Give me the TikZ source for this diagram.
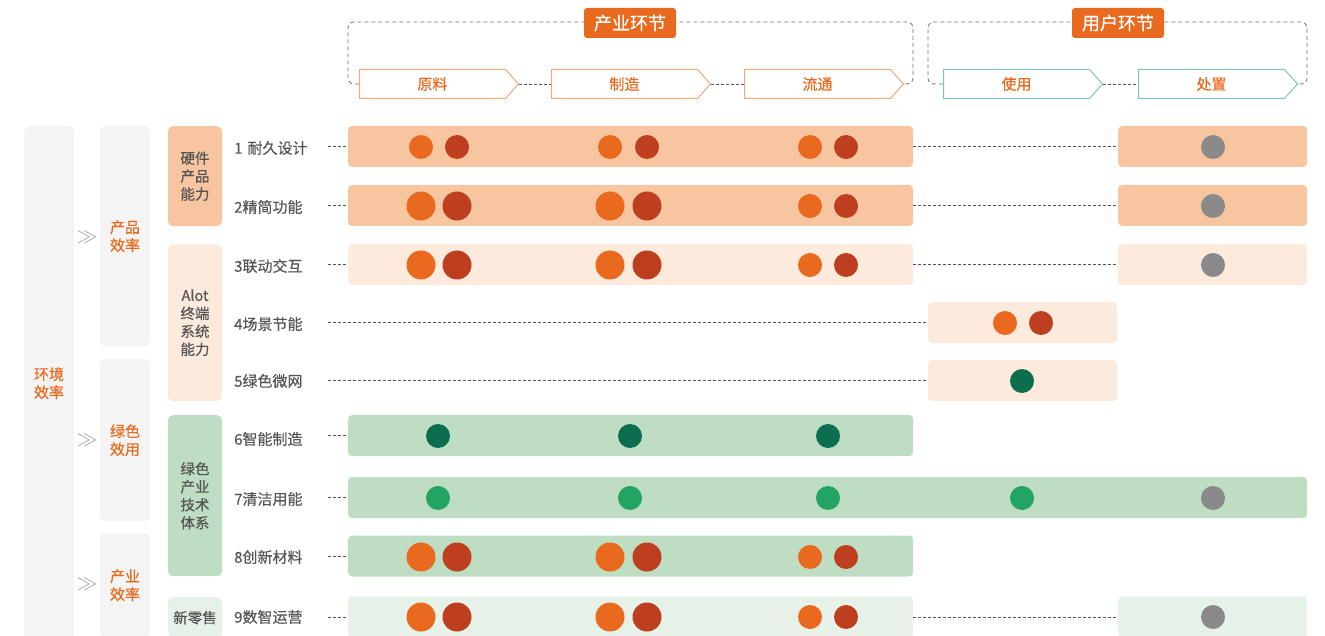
\documentclass[tikz,border=0pt]{standalone}
\usepackage{fontspec}
\setmainfont{Noto Sans CJK SC}[FakeBold=0.4]
\usepackage{tikz}
\usetikzlibrary{shapes,positioning}
\usepackage{xcolor}
\definecolor{hjorange}{HTML}{E9691E}
\definecolor{hjred}{HTML}{BE3F1F}
\definecolor{hjdkgreen}{HTML}{0B6E4F}
\definecolor{hjgreen}{HTML}{22A463}
\definecolor{hjgray}{HTML}{8A8A8A}
\definecolor{hjpeach}{HTML}{F7C6A1}
\definecolor{hjpeachlt}{HTML}{FCEADC}
\definecolor{hjsage}{HTML}{BFDDC3}
\definecolor{hjsagelt}{HTML}{E6F2E8}
\definecolor{hjbox}{HTML}{F4F4F4}
\definecolor{hjedge}{HTML}{F2A877}
\definecolor{hjteal}{HTML}{82C4BF}
\definecolor{hjtext}{HTML}{555555}
\tikzstyle{bar} = [rectangle, rounded corners=4pt, minimum height=41pt, inner sep=0pt, anchor=west]
\tikzstyle{rowlabel} = [anchor=west, text width=94pt, inner sep=0pt, align=left, text=hjtext, font=\fontsize{15}{18}\selectfont]
\tikzstyle{link} = [dash pattern=on 3pt off 2pt, line width=0.8pt, color=hjtext]
\tikzstyle{bracket} = [dash pattern=on 4pt off 3pt, line width=0.8pt, color=hjtext!85, rounded corners=6pt]
\tikzstyle{stage} = [signal, signal to=east, signal pointer angle=96, minimum width=159pt, minimum height=29pt, inner sep=0pt, anchor=west, fill=white, line width=1pt, draw=hjedge, text=hjorange, font=\fontsize{15}{17}\selectfont]
\tikzstyle{phase} = [rectangle, rounded corners=3pt, fill=hjorange, text=white, minimum width=92pt, minimum height=30pt, inner sep=0pt, font=\fontsize{18}{20}\selectfont]
\tikzstyle{effbox} = [rectangle, rounded corners=5pt, fill=hjbox, minimum width=50pt, inner sep=0pt, anchor=north, align=center, text=hjorange, font=\fontsize{15}{18}\selectfont]
\tikzstyle{catbox} = [rectangle, rounded corners=5pt, minimum width=54pt, inner sep=0pt, anchor=north, align=center, text=hjtext, font=\fontsize{14.5}{18}\selectfont]
\tikzstyle{chev} = [text=hjgray!80, font=\fontsize{20}{20}\selectfont]

\begin{document}
\begin{tikzpicture}[x=1pt, y=-1pt]
\useasboundingbox (0,0) rectangle (1325,636);

% Stages along the chain
\node[stage] (yl) at (359,84) {原料};
\node[stage] (zz) at (551,84) {制造};
\node[stage] (lt) at (744,84) {流通};
\node[stage, draw=hjteal] (sy) at (943,84) {使用};
\node[stage, draw=hjteal] (cz) at (1138,84) {处置};
\draw[link] (yl.east) -- (zz.west);
\draw[link] (zz.east) -- (lt.west);
\draw[link] (sy.east) -- (cz.west);

% Dashed brackets
\coordinate (cyL) at (348,22);
\coordinate (cyR) at (913,22);
\coordinate (yhL) at (928,22);
\coordinate (yhR) at (1307,22);
\draw[bracket] (yl.west) -| (cyL) -- (cyR) |- (lt.east);
\draw[bracket] (sy.west) -| (yhL) -- (yhR) |- (cz.east);
\node[phase] (cyhj) at (630,23) {产业环节};
\node[phase] (yhhj) at (1118,23) {用户环节};

% Efficiency columns
\node[effbox, minimum height=514pt] (hjxl) at (49,126) {环境\\效率};
\node[effbox, minimum height=220pt] (cpxl) at (125,126) {产品\\效率};
\node[effbox, minimum height=162pt] (lsxy) at (125,359) {绿色\\效用};
\node[effbox, minimum height=104pt] (cyxl) at (125,533) {产业\\效率};
\node[chev] (g1) at (87,237) {$\gg$};
\node[chev] (g2) at (87,440) {$\gg$};
\node[chev] (g3) at (87,584) {$\gg$};

% Capability groups
\node[catbox, fill=hjpeach, minimum height=100pt] (yj) at (195,126) {硬件\\产品\\能力};
\node[catbox, fill=hjpeachlt, minimum height=157pt] (aiot) at (195,244) {Alot\\终端\\系统\\能力};
\node[catbox, fill=hjsage, minimum height=161pt] (lscy) at (195,415) {绿色\\产业\\技术\\体系};
\node[catbox, fill=hjsagelt, minimum height=41pt] (xls) at (195,597) {新零售};

% Rows
\node[rowlabel] (l1) at (234,148) {1 耐久设计};
\node[rowlabel] (l2) at (234,207) {2精简功能};
\node[rowlabel] (l3) at (234,266) {3联动交互};
\node[rowlabel] (l4) at (234,324) {4场景节能};
\node[rowlabel] (l5) at (234,381) {5绿色微网};
\node[rowlabel] (l6) at (234,439) {6智能制造};
\node[rowlabel] (l7) at (234,499) {7清洁用能};
\node[rowlabel] (l8) at (234,557) {8创新材料};
\node[rowlabel] (l9) at (234,617) {9数智运营};

\node[bar, fill=hjpeach, minimum width=565pt] (b1) at (348,146.5) {};
\node[bar, fill=hjpeach, minimum width=189pt] (r1) at (1118,146.5) {};
\node[bar, fill=hjpeach, minimum width=565pt] (b2) at (348,205.5) {};
\node[bar, fill=hjpeach, minimum width=189pt] (r2) at (1118,205.5) {};
\node[bar, fill=hjpeachlt, minimum width=565pt] (b3) at (348,264.5) {};
\node[bar, fill=hjpeachlt, minimum width=189pt] (r3) at (1118,264.5) {};
\node[bar, fill=hjpeachlt, minimum width=189pt] (b4) at (928,322.5) {};
\node[bar, fill=hjpeachlt, minimum width=189pt] (b5) at (928,380.5) {};
\node[bar, fill=hjsage, minimum width=565pt] (b6) at (348,435.5) {};
\node[bar, fill=hjsage, minimum width=959pt] (b7) at (348,497.5) {};
\node[bar, fill=hjsage, minimum width=565pt] (b8) at (348,556) {};
\node[bar, fill=hjsagelt, minimum width=565pt] (b9) at (348,617) {};
\node[bar, fill=hjsagelt, minimum width=189pt] (r9) at (1118,617) {};

\draw[link] (b1.west -| l1.east) -- (b1.west);
\draw[link] (b1.east) -- (r1.west);
\draw[link] (b2.west -| l2.east) -- (b2.west);
\draw[link] (b2.east) -- (r2.west);
\draw[link] (b3.west -| l3.east) -- (b3.west);
\draw[link] (b3.east) -- (r3.west);
\draw[link] (b4.west -| l4.east) -- (b4.west);
\draw[link] (b5.west -| l5.east) -- (b5.west);
\draw[link] (b6.west -| l6.east) -- (b6.west);
\draw[link] (b7.west -| l7.east) -- (b7.west);
\draw[link] (b8.west -| l8.east) -- (b8.west);
\draw[link] (b9.west -| l9.east) -- (b9.west);
\draw[link] (b9.east) -- (r9.west);

% Dots
\fill[hjorange] (421,147) circle (12pt); \fill[hjred] (457,147) circle (12pt);
\fill[hjorange] (610,147) circle (12pt); \fill[hjred] (647,147) circle (12pt);
\fill[hjorange] (810,147) circle (12pt); \fill[hjred] (846,147) circle (12pt);
\fill[hjgray] (1213,147) circle (12pt);

\fill[hjorange] (421,206) circle (14.5pt); \fill[hjred] (457,206) circle (14.5pt);
\fill[hjorange] (610,206) circle (14.5pt); \fill[hjred] (647,206) circle (14.5pt);
\fill[hjorange] (810,206) circle (12pt); \fill[hjred] (846,206) circle (12pt);
\fill[hjgray] (1213,206) circle (12pt);

\fill[hjorange] (421,265) circle (14.5pt); \fill[hjred] (457,265) circle (14.5pt);
\fill[hjorange] (610,265) circle (14.5pt); \fill[hjred] (647,265) circle (14.5pt);
\fill[hjorange] (810,265) circle (12pt); \fill[hjred] (846,265) circle (12pt);
\fill[hjgray] (1213,265) circle (12pt);

\fill[hjorange] (1005,323) circle (12pt); \fill[hjred] (1041,323) circle (12pt);
\fill[hjdkgreen] (1022,381) circle (12pt);

\fill[hjdkgreen] (438,436) circle (12pt);
\fill[hjdkgreen] (630,436) circle (12pt);
\fill[hjdkgreen] (828,436) circle (12pt);

\fill[hjgreen] (438,498) circle (12pt);
\fill[hjgreen] (630,498) circle (12pt);
\fill[hjgreen] (828,498) circle (12pt);
\fill[hjgreen] (1022,498) circle (12pt);
\fill[hjgray] (1213,498) circle (12pt);

\fill[hjorange] (421,557) circle (14.5pt); \fill[hjred] (457,557) circle (14.5pt);
\fill[hjorange] (610,557) circle (14.5pt); \fill[hjred] (647,557) circle (14.5pt);
\fill[hjorange] (810,557) circle (12pt); \fill[hjred] (846,557) circle (12pt);

\fill[hjorange] (421,617) circle (14.5pt); \fill[hjred] (457,617) circle (14.5pt);
\fill[hjorange] (610,617) circle (14.5pt); \fill[hjred] (647,617) circle (14.5pt);
\fill[hjorange] (810,617) circle (12pt); \fill[hjred] (846,617) circle (12pt);
\fill[hjgray] (1213,617) circle (12pt);
\end{tikzpicture}
\end{document}
